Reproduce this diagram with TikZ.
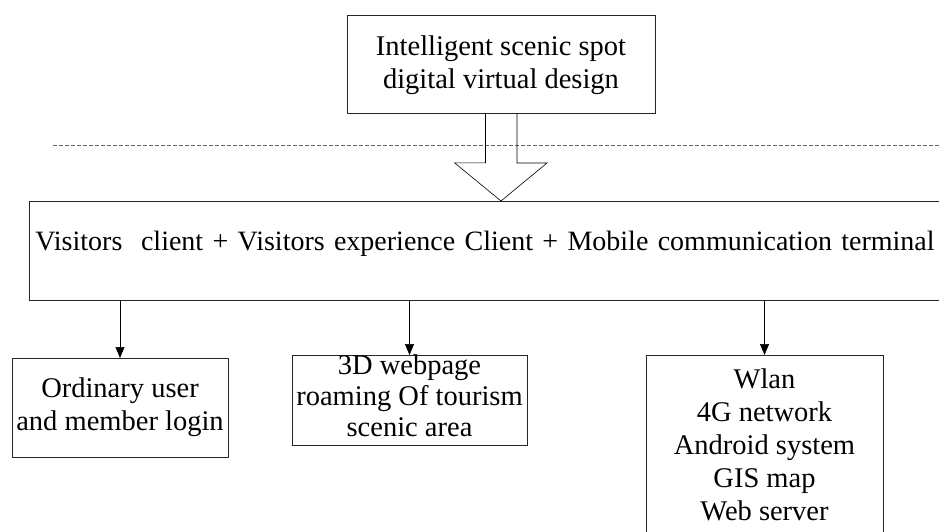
\documentclass[tikz,border=0pt]{standalone}
\usepackage{fontspec}
\setmainfont{Liberation Serif}
\usetikzlibrary{arrows.meta}
\usetikzlibrary{calc}

\tikzset{
    blk/.style={draw=black!85, line width=0.8pt, align=center, inner ysep=0pt,
        font=\fontsize{28.5}{33}\selectfont},
    down/.style={-{Triangle[width=9pt, length=11pt]}, line width=0.6pt}
}

\begin{document}
\begin{tikzpicture}[x=1pt, y=-1pt]
        \useasboundingbox (0,0) rectangle (939,532);
        % top box
        \node[blk, anchor=north, minimum width=308pt, text height=73pt, text depth=25pt]
            (design) at (501,15) {Intelligent scenic spot\\digital virtual design};
        % dashed separator
        \draw[black!60, line width=0.7pt, dash pattern=on 4pt off 2pt] (53,145) -- (939,145);
        % client box (right side runs off the page)
        \node[blk, anchor=north west, align=left, text width=920pt, inner xsep=6pt,
            text height=49pt, text depth=50pt, font=\fontsize{28}{33}\selectfont]
            (client) at (29,201) {Visitors\ \ client + Visitors experience Client + Mobile communication terminal};
        % hollow arrow
        \draw[line width=0.6pt] (design.south) ++(-15.5,0) -- ++(0,49) -- ++(-31,0)
            -- (client.north -| design.south) -- ++(46,-38) -- ++(-30,0) -- ++(0,-49);
        % lower boxes
        \node[blk, anchor=north, minimum width=216pt, text height=72pt, text depth=27pt]
            (login) at (120,358) {Ordinary user\\and member login};
        \node[blk, anchor=north, minimum width=235pt, text height=81pt, text depth=9pt,
            font=\fontsize{28.5}{31}\selectfont]
            (roam) at (409.5,355) {3D webpage\\roaming Of tourism\\scenic area};
        \node[blk, anchor=north, minimum width=237pt, text height=165pt, text depth=40pt]
            (net) at (764.5,355) {Wlan\\4G network\\Android system\\GIS map\\Web server};
        % arrows
        \draw[down] (client.south -| login.north) -- (login.north);
        \draw[down] (client.south -| roam.north) -- (roam.north);
        \draw[down] (client.south -| net.north) -- (net.north);
    \end{tikzpicture}
\end{document}
